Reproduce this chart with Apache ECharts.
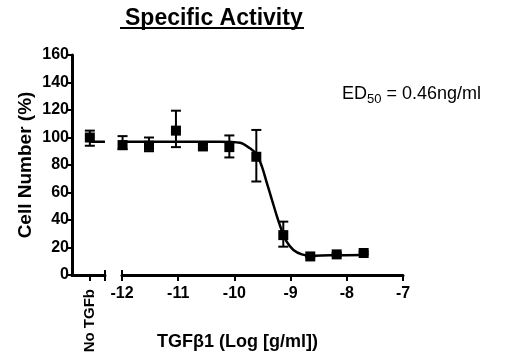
<!DOCTYPE html>
<html>
<head>
<meta charset="utf-8">
<script src="https://cdn.jsdelivr.net/npm/echarts@6/dist/echarts.min.js"></script>
<style>
  html, body { margin: 0; padding: 0; background: #fff; }
  #chart { width: 510px; height: 362px; }
</style>
</head>
<body>
<div id="chart"></div>
<script>
// values
const logDose = [-11.99, -11.52, -11.04, -10.56, -10.09, -9.61, -9.13, -8.65, -8.18, -7.70];
const cellPct = [94.5, 94, 105, 93.5, 93, 86, 29, 13.5, 15, 16];
const errHigh = [101, 100, 119.5, 95, 101.5, 105.5, 38.8, 14, 16, 17];
const errLow = [91.5, 90, 93, 92, 85.5, 68, 20.6, 13, 14, 15];
// control well (no TGF-b)
const ctrlPct = 100;
const ctrlHigh = 105;
const ctrlLow = 94;
// fitted curve
const fitX = [-12.02, -11, -10.26, -9.90, -9.72, -9.60, -9.51, -9.43, -9.34, -9.25, -9.16, -9.07, -8.95, -8.80, -8.65, -8.30, -7.7];
const fitY = [97, 97, 97, 96.2, 92.1, 87.3, 78.8, 67.9, 55.8, 43.6, 32.7, 24.2, 18.2, 15, 14, 14.3, 14.5];
const fitTop = 97;

const FONT = '"Liberation Sans", Arial, sans-serif';
const myChart = echarts.init(document.getElementById('chart'));

function errorBars() {
  return function (params, api) {
    const x = api.value(0);
    const hi = api.coord([x, api.value(1)]);
    const lo = api.coord([x, api.value(2)]);
    const w = 5;
    const style = { stroke: '#000', lineWidth: 2 };
    return {
      type: 'group',
      children: [
        { type: 'line', shape: { x1: hi[0], y1: hi[1], x2: lo[0], y2: lo[1] }, style: style },
        { type: 'line', shape: { x1: hi[0] - w, y1: hi[1], x2: hi[0] + w, y2: hi[1] }, style: style },
        { type: 'line', shape: { x1: lo[0] - w, y1: lo[1], x2: lo[0] + w, y2: lo[1] }, style: style }
      ]
    };
  };
}

const axisLine = { show: true, lineStyle: { color: '#000', width: 3 } };
const tick = { show: true, length: 6, lineStyle: { color: '#000', width: 2 } };
const labelStyle = { color: '#000', fontWeight: 'bold', fontSize: 16, fontFamily: FONT };

const option = {
  animation: false,
  backgroundColor: '#fff',
  title: [
    {
      text: 'Specific Activity',
      left: 120,
      top: 2,
      textStyle: { color: '#000', fontWeight: 'bold', fontSize: 23, fontFamily: FONT }
    },
    {
      text: '{a|ED}{b|50}{a| = 0.46ng/ml}',
      left: 337,
      top: 78,
      textStyle: {
        rich: {
          a: { color: '#000', fontSize: 18, fontWeight: 'normal', fontFamily: FONT },
          b: { color: '#000', fontSize: 13, fontWeight: 'normal', fontFamily: FONT, padding: [10, 0, 0, 0] }
        }
      }
    }
  ],
  graphic: [
    { type: 'line', shape: { x1: 120, y1: 28, x2: 304, y2: 28 }, style: { stroke: '#000', lineWidth: 2 } }
  ],
  grid: [
    { left: 72, top: 55, width: 33, height: 220 },
    { left: 122, top: 55, width: 281, height: 220 }
  ],
  xAxis: [
    {
      gridIndex: 0, type: 'value', min: 0, max: 1.85, position: 'bottom',
      axisLine: axisLine,
      axisTick: Object.assign({}, tick, { customValues: [1, 1.85] }),
      axisLabel: Object.assign({}, labelStyle, {
        customValues: [1], rotate: 90, margin: 14, fontSize: 15,
        formatter: function () { return 'No TGFb'; }
      }),
      splitLine: { show: false }
    },
    {
      gridIndex: 0, type: 'value', min: 0, max: 1.85, position: 'bottom',
      axisLine: { show: false },
      axisTick: { show: true, inside: true, length: 5, lineStyle: { color: '#000', width: 2 }, customValues: [1.85] },
      axisLabel: { show: false },
      splitLine: { show: false }
    },
    {
      gridIndex: 1, type: 'value', min: -12, max: -7, interval: 1, position: 'bottom',
      axisLine: axisLine,
      axisTick: tick,
      axisLabel: Object.assign({}, labelStyle, { margin: 11 }),
      splitLine: { show: false },
      name: 'TGF\u03b21 (Log [g/ml])',
      nameLocation: 'middle',
      nameGap: 58,
      nameTextStyle: { color: '#000', fontWeight: 'bold', fontSize: 18, fontFamily: FONT, padding: [0, 50, 0, 0] }
    },
    {
      gridIndex: 1, type: 'value', min: -12, max: -7, position: 'bottom',
      axisLine: { show: false },
      axisTick: { show: true, inside: true, length: 5, lineStyle: { color: '#000', width: 2 }, customValues: [-12] },
      axisLabel: { show: false },
      splitLine: { show: false }
    }
  ],
  yAxis: [
    {
      gridIndex: 0, type: 'value', min: 0, max: 160, interval: 20,
      axisLine: axisLine,
      axisTick: { show: true, length: 5, lineStyle: { color: '#000', width: 2 } },
      axisLabel: Object.assign({}, labelStyle, { margin: 3 }),
      splitLine: { show: false },
      name: 'Cell Number (%)',
      nameLocation: 'middle',
      nameGap: 37,
      nameTextStyle: { color: '#000', fontWeight: 'bold', fontSize: 19, fontFamily: FONT }
    },
    { gridIndex: 1, type: 'value', min: 0, max: 160, show: false }
  ],
  series: [
    {
      type: 'line', xAxisIndex: 0, yAxisIndex: 0, symbol: 'none',
      lineStyle: { color: '#000', width: 2.5 },
      data: [[1, fitTop], [1.85, fitTop]], z: 2
    },
    {
      type: 'custom', xAxisIndex: 0, yAxisIndex: 0,
      renderItem: errorBars(),
      data: [[1, ctrlHigh, ctrlLow]], z: 3
    },
    {
      type: 'scatter', xAxisIndex: 0, yAxisIndex: 0, symbol: 'rect', symbolSize: 10,
      itemStyle: { color: '#000', opacity: 1 },
      data: [[1, ctrlPct]], z: 4
    },
    {
      type: 'line', xAxisIndex: 2, yAxisIndex: 1, symbol: 'none', smooth: 0.3,
      lineStyle: { color: '#000', width: 2.5 },
      data: fitX.map(function (x, i) { return [x, fitY[i]]; }), z: 2
    },
    {
      type: 'custom', xAxisIndex: 2, yAxisIndex: 1,
      renderItem: errorBars(),
      data: logDose.map(function (x, i) { return [x, errHigh[i], errLow[i]]; }), z: 3
    },
    {
      type: 'scatter', xAxisIndex: 2, yAxisIndex: 1, symbol: 'rect', symbolSize: 10,
      itemStyle: { color: '#000', opacity: 1 },
      data: logDose.map(function (x, i) { return [x, cellPct[i]]; }), z: 4
    }
  ]
};
option && myChart.setOption(option);
</script>
</body>
</html>
